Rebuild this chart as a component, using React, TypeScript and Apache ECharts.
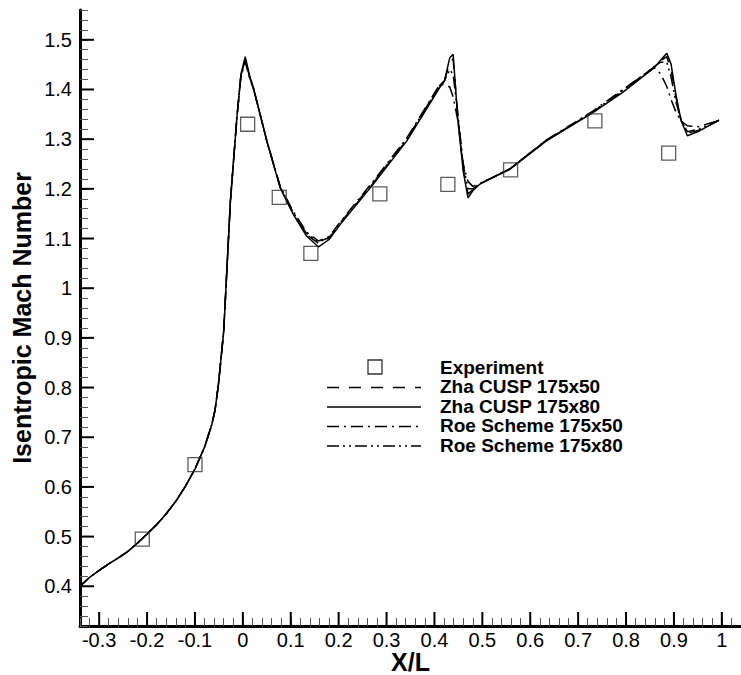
import React, { useEffect, useRef } from 'react';
import * as echarts from 'echarts';

// ---- data ----
const X_PTS = [-0.34, -0.32, -0.3, -0.28, -0.26, -0.24, -0.22, -0.2, -0.18, -0.16, -0.14, -0.12, -0.1, -0.08, -0.065, -0.058, -0.051, -0.04, -0.026, -0.0125, -0.004, 0.005, 0.015, 0.022, 0.05, 0.078, 0.105, 0.133, 0.158, 0.18, 0.203, 0.272, 0.342, 0.411, 0.421, 0.432, 0.439, 0.449, 0.46, 0.47, 0.48, 0.494, 0.536, 0.557, 0.633, 0.73, 0.793, 0.859, 0.872, 0.885, 0.894, 0.904, 0.915, 0.928, 0.952, 0.994];

const LEAD = [0.400, 0.418, 0.432, 0.445, 0.457, 0.470, 0.487, 0.505, 0.524, 0.546, 0.571, 0.601, 0.636, 0.680, 0.725, 0.755, 0.806, 0.913, 1.175, 1.343];

const ZHA_CUSP_50 = [...LEAD, 1.428, 1.460, 1.422, 1.403, 1.296, 1.203, 1.151, 1.108, 1.090, 1.101, 1.130, 1.211, 1.298, 1.406, 1.418, 1.455, 1.462, 1.345, 1.240, 1.190, 1.198, 1.210, 1.230, 1.240, 1.297, 1.354, 1.396, 1.446, 1.458, 1.466, 1.440, 1.385, 1.338, 1.312, 1.318, 1.338];

const ZHA_CUSP_80 = [...LEAD, 1.431, 1.466, 1.424, 1.404, 1.296, 1.202, 1.149, 1.105, 1.083, 1.098, 1.128, 1.209, 1.296, 1.404, 1.417, 1.464, 1.471, 1.337, 1.236, 1.182, 1.196, 1.209, 1.229, 1.239, 1.296, 1.353, 1.394, 1.444, 1.459, 1.473, 1.451, 1.390, 1.337, 1.307, 1.316, 1.338];

const ROE_50 = [...LEAD, 1.426, 1.455, 1.420, 1.402, 1.297, 1.205, 1.155, 1.113, 1.095, 1.104, 1.133, 1.215, 1.302, 1.410, 1.410, 1.405, 1.385, 1.337, 1.250, 1.215, 1.205, 1.210, 1.230, 1.240, 1.298, 1.356, 1.400, 1.444, 1.432, 1.406, 1.380, 1.355, 1.336, 1.327, 1.325, 1.338];

const ROE_80 = [...LEAD, 1.428, 1.460, 1.422, 1.403, 1.297, 1.204, 1.153, 1.110, 1.093, 1.102, 1.131, 1.213, 1.300, 1.408, 1.418, 1.440, 1.430, 1.350, 1.250, 1.200, 1.200, 1.210, 1.230, 1.240, 1.297, 1.355, 1.398, 1.446, 1.455, 1.455, 1.425, 1.375, 1.338, 1.315, 1.320, 1.338];

const EXP_X = [-0.21, -0.1, 0.01, 0.076, 0.142, 0.286, 0.428, 0.559, 0.735, 0.889];
const EXP_Y = [0.495, 0.645, 1.33, 1.183, 1.07, 1.19, 1.209, 1.238, 1.337, 1.272];

const X_MAJOR_TICKS = [-0.3, -0.2, -0.1, 0, 0.1, 0.2, 0.3, 0.4, 0.5, 0.6, 0.7, 0.8, 0.9, 1.0];
const Y_MAJOR_TICKS = [0.4, 0.5, 0.6, 0.7, 0.8, 0.9, 1.0, 1.1, 1.2, 1.3, 1.4, 1.5];

const LEGEND_LABELS = ['Experiment', 'Zha CUSP 175x50', 'Zha CUSP 175x80', 'Roe Scheme 175x50', 'Roe Scheme 175x80'];

const X_MIN = -0.34;
const X_MAX = 1.04;
const Y_MIN = 0.32;
const Y_MAX = 1.56;

const FONT = '"Liberation Sans", Arial, Helvetica, sans-serif';

const DASHED = [12, 10];
const DASH_DOT = [12, 5, 2, 5];
const DASH_DOT_DOT = [12, 4, 2, 4, 2, 4];

function tenthLabel(v: number): string {
  const t = Math.round(v * 10);
  return Math.abs(v * 10 - t) < 1e-6 ? String(t / 10) : '';
}

function lineSeries(name: string, ys: number[], type: any, z: number) {
  return {
    name,
    type: 'line',
    data: X_PTS.map((x, i) => [x, ys[i]]),
    symbol: 'none',
    showSymbol: false,
    smooth: false,
    z,
    lineStyle: { color: '#000', width: 1.5, type },
  };
}

export default function App() {
  const ref = useRef<HTMLDivElement>(null);

  useEffect(() => {
    if (!ref.current) return;
    const chart = echarts.init(ref.current, null, { renderer: 'svg' });

    const legendX0 = 327;
    const legendX1 = 421;
    const textX = 440;
    const rowY = [367, 386.5, 406, 425.5, 445];
    const dashes: any[] = [null, DASHED, null, DASH_DOT, DASH_DOT_DOT];

    const graphic: any[] = [];
    graphic.push({
      type: 'rect',
      shape: { x: 368, y: rowY[0] - 7, width: 14, height: 14 },
      style: { fill: 'none', stroke: '#333', lineWidth: 1.3 },
    });
    for (let i = 1; i < 5; i++) {
      graphic.push({
        type: 'line',
        shape: { x1: legendX0, y1: rowY[i] + 1, x2: legendX1, y2: rowY[i] + 1 },
        style: { stroke: '#000', lineWidth: 1.5, lineDash: dashes[i] || null },
      });
    }
    LEGEND_LABELS.forEach((label, i) => {
      graphic.push({
        type: 'text',
        x: textX,
        y: rowY[i],
        style: {
          text: label,
          fill: '#000',
          font: `bold 19px ${FONT}`,
          lineHeight: 19,
          textAlign: 'left',
          textVerticalAlign: 'middle',
        },
      });
    });

    const option: any = {
      animation: false,
      backgroundColor: '#fff',
      grid: { left: 80, right: 0, top: 10, bottom: 49, containLabel: false, outerBoundsMode: 'none' },
      xAxis: {
        type: 'value',
        min: X_MIN,
        max: X_MAX,
        interval: 0.02,
        splitLine: { show: false },
        axisLine: { show: true, onZero: false, lineStyle: { color: '#000', width: 3 } },
        axisTick: { show: true, inside: true, length: 8, lineStyle: { color: '#555', width: 1 } },
        axisLabel: { formatter: tenthLabel, color: '#000', fontSize: 20, fontFamily: FONT, margin: 4 },
        name: 'X/L',
        nameLocation: 'middle',
        nameGap: 23,
        nameMoveOverlap: false,
        nameTextStyle: { fontSize: 25, fontWeight: 'bold', color: '#000', fontFamily: FONT, lineHeight: 25 },
      },
      yAxis: {
        type: 'value',
        min: Y_MIN,
        max: Y_MAX,
        interval: 0.02,
        splitLine: { show: false },
        axisLine: { show: true, onZero: false, lineStyle: { color: '#000', width: 3 } },
        axisTick: { show: true, inside: true, length: 8, lineStyle: { color: '#555', width: 1 } },
        axisLabel: { formatter: tenthLabel, color: '#000', fontSize: 20, fontFamily: FONT, margin: 8 },
        name: 'Isentropic Mach Number',
        nameLocation: 'middle',
        nameGap: 46,
        nameMoveOverlap: false,
        nameTextStyle: { fontSize: 25, fontWeight: 'bold', color: '#000', fontFamily: FONT },
      },
      graphic,
      series: [
        {
          type: 'custom',
          silent: true,
          clip: false,
          z: 5,
          data: X_MAJOR_TICKS.map((v) => [v, Y_MIN]),
          renderItem: (_p: any, api: any) => {
            const p = api.coord([api.value(0), api.value(1)]);
            return { type: 'line', shape: { x1: p[0], y1: p[1], x2: p[0], y2: p[1] - 14 }, style: { stroke: '#000', lineWidth: 2 } };
          },
        },
        {
          type: 'custom',
          silent: true,
          clip: false,
          z: 5,
          data: Y_MAJOR_TICKS.map((v) => [X_MIN, v]),
          renderItem: (_p: any, api: any) => {
            const p = api.coord([api.value(0), api.value(1)]);
            return { type: 'line', shape: { x1: p[0], y1: p[1], x2: p[0] + 14, y2: p[1] }, style: { stroke: '#000', lineWidth: 2 } };
          },
        },
        lineSeries('Zha CUSP 175x50', ZHA_CUSP_50, DASHED, 3),
        lineSeries('Zha CUSP 175x80', ZHA_CUSP_80, 'solid', 4),
        lineSeries('Roe Scheme 175x50', ROE_50, DASH_DOT, 3),
        lineSeries('Roe Scheme 175x80', ROE_80, DASH_DOT_DOT, 3),
        {
          name: 'Experiment',
          type: 'scatter',
          data: EXP_X.map((x, i) => [x, EXP_Y[i]]),
          symbol: 'rect',
          symbolSize: 14,
          z: 6,
          itemStyle: { color: 'rgba(0,0,0,0)', borderColor: '#333', borderWidth: 1.3 },
        },
      ],
    };

    chart.setOption(option);
    return () => chart.dispose();
  }, []);

  return <div ref={ref} style={{ position: 'fixed', left: 0, top: 0, width: 741, height: 675, background: '#fff' }} />;
}
